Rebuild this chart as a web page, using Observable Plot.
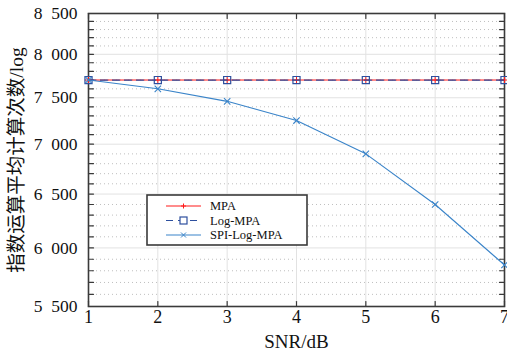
<!DOCTYPE html>
<html><head><meta charset="utf-8">
<script src="https://cdn.jsdelivr.net/npm/d3@7"></script>
<script src="https://cdn.jsdelivr.net/npm/@observablehq/plot@0.6"></script>
<style>
body{margin:0;background:#fff}
#wrap{position:relative;width:507px;height:360px}
#legend{position:absolute;left:0;top:0}
</style>
</head><body><div id="wrap"></div>
<script>
const snr = [1, 2, 3, 4, 5, 6, 7];
const mpa = [7700, 7700, 7700, 7700, 7700, 7700, 7700];
const logMpa = [7700, 7700, 7700, 7700, 7700, 7700, 7700];
const spiLogMpa = [7700, 7600, 7460, 7250, 6900, 6400, 5850];
const yMajor = [5500, 6000, 6500, 7000, 7500, 8000, 8500];
const yMinor = d3.range(5500, 8501, 100);
const seriesNames = ["MPA", "Log-MPA", "SPI-Log-MPA"];
const seriesColors = ["#ff1a1a", "#2d4f9e", "#3a84c9"];

const serif = "'Liberation Serif', 'Noto Sans CJK SC', serif";
const fmt = d => d3.format(",")(d).replace(",", "\u2002");
const tickShape = {draw(ctx, l) { ctx.moveTo(0, 0); ctx.lineTo(0, -l); }};
const frameColor = "#3a3a3a";

const chart = Plot.plot({
  width: 507, height: 360,
  marginLeft: 88, marginRight: 3, marginTop: 13, marginBottom: 54,
  style: {background: "#fff", color: "#111"},
  x: {domain: [1, 7], axis: null},
  y: {type: "log", domain: [5500, 8500], axis: null},
  marks: [
    Plot.ruleY(yMinor.filter(v => !yMajor.includes(v)), {y: d => d, stroke: "#b8b8b8", strokeDasharray: "1,3", strokeWidth: 0.9}),
    Plot.ruleY(yMajor, {y: d => d, stroke: "#e2e2e2", strokeWidth: 1}),
    Plot.ruleX(snr, {x: d => d, stroke: "#e2e2e2", strokeWidth: 1}),
    Plot.vector(yMinor, {y: d => d, frameAnchor: "left", rotate: 90, length: 5, anchor: "start", shape: tickShape, stroke: frameColor, strokeWidth: 1.2}),
    Plot.vector(yMinor, {y: d => d, frameAnchor: "right", rotate: -90, length: 5, anchor: "start", shape: tickShape, stroke: frameColor, strokeWidth: 1.2}),
    Plot.vector(snr, {x: d => d, frameAnchor: "bottom", rotate: 0, length: 5, anchor: "start", shape: tickShape, stroke: frameColor, strokeWidth: 1.2}),
    Plot.vector(snr, {x: d => d, frameAnchor: "top", rotate: 180, length: 5, anchor: "start", shape: tickShape, stroke: frameColor, strokeWidth: 1.2}),
    Plot.frame({stroke: frameColor, strokeWidth: 1.6}),
    Plot.text(yMajor, {y: d => d, text: fmt, frameAnchor: "left", textAnchor: "end", dx: -11, fontSize: 17.5, fill: "#111"}),
    Plot.text(snr, {x: d => d, text: d => String(d), frameAnchor: "bottom", textAnchor: "middle", dy: 16, fontSize: 18, fill: "#111"}),
    Plot.text(["SNR/dB"], {frameAnchor: "bottom", textAnchor: "middle", dy: 41, fontSize: 19, fill: "#111"}),
    Plot.text(["指数运算平均计算次数/log"], {frameAnchor: "left", textAnchor: "middle", rotate: -90, dx: -72, fontSize: 19.5, fill: "#111"}),
    // MPA
    Plot.line(snr, {x: d => d, y: (d, i) => mpa[i], stroke: seriesColors[0], strokeWidth: 1}),
    Plot.dot(snr, {x: d => d, y: (d, i) => mpa[i], symbol: "plus", r: 2.5, stroke: seriesColors[0], strokeWidth: 1}),
    // Log-MPA
    Plot.line(snr, {x: d => d, y: (d, i) => logMpa[i], stroke: seriesColors[1], strokeWidth: 1.3, strokeDasharray: "7,5"}),
    Plot.dot(snr, {x: d => d, y: (d, i) => logMpa[i], symbol: "square", r: 4, stroke: seriesColors[1], fill: "none", strokeWidth: 1.2}),
    // SPI-Log-MPA
    Plot.line(snr, {x: d => d, y: (d, i) => spiLogMpa[i], stroke: seriesColors[2], strokeWidth: 1.1}),
    Plot.dot(snr, {x: d => d, y: (d, i) => spiLogMpa[i], symbol: "times", r: 3, stroke: seriesColors[2], strokeWidth: 1.1})
  ]
});
d3.select(chart).selectAll("text").style("font-family", serif);
const wrap = document.getElementById("wrap");
wrap.appendChild(chart);

// Legend overlay
const lg = d3.select(wrap).append("svg").attr("id", "legend").attr("width", 507).attr("height", 360);
const bx = 147, by = 195, bw = 160, bh = 50;
lg.append("rect").attr("x", bx).attr("y", by).attr("width", bw).attr("height", bh)
  .attr("fill", "#fff").attr("stroke", frameColor).attr("stroke-width", 1.6);
const dashes = [null, "7,5", null];
seriesNames.forEach((name, i) => {
  const cy = by + 11 + i * 14.5;
  const x1 = bx + 19, x2 = bx + 54, xm = (x1 + x2) / 2;
  lg.append("line").attr("x1", x1).attr("x2", x2).attr("y1", cy).attr("y2", cy)
    .attr("stroke", seriesColors[i]).attr("stroke-width", 1.2).attr("stroke-dasharray", dashes[i]);
  if (i === 0) {
    lg.append("path").attr("d", `M${xm - 2.5},${cy}h5M${xm},${cy - 2.5}v5`).attr("stroke", seriesColors[i]).attr("fill", "none");
  } else if (i === 1) {
    lg.append("rect").attr("x", xm - 3.5).attr("y", cy - 3.5).attr("width", 7).attr("height", 7)
      .attr("fill", "#fff").attr("stroke", seriesColors[i]).attr("stroke-width", 1.2);
  } else {
    lg.append("path").attr("d", `M${xm - 2.5},${cy - 2.5}l5,5M${xm - 2.5},${cy + 2.5}l5,-5`).attr("stroke", seriesColors[i]).attr("fill", "none");
  }
  lg.append("text").attr("x", bx + 63).attr("y", cy).attr("dy", "0.35em")
    .style("font-family", serif).attr("font-size", 12.5).attr("fill", "#111").text(name);
});
</script>
</body></html>
